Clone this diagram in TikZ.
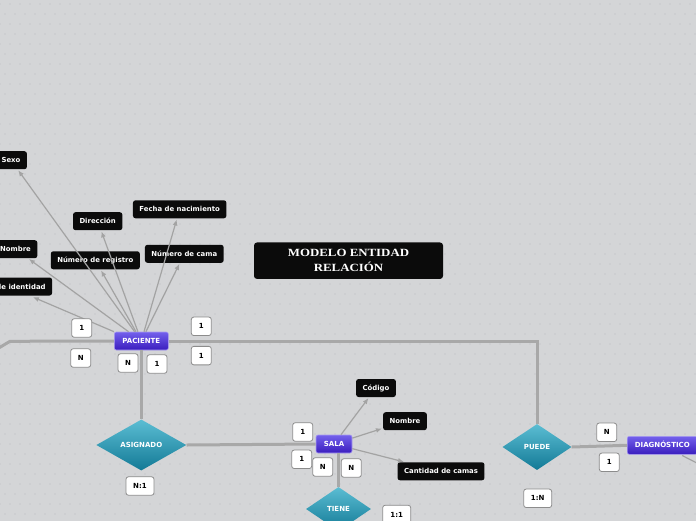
\documentclass[tikz,border=0pt]{standalone}
\usepackage{fontspec}
\setmainfont{DejaVu Sans}
\newfontfamily\titlefont[FakeStretch=1.17]{Liberation Serif}
\usetikzlibrary{shapes.geometric,arrows.meta,calc}
\definecolor{bg}{HTML}{D4D5D7}
\definecolor{dotc}{HTML}{C7C8CB}
\definecolor{relgray}{HTML}{A8A8A8}
\definecolor{arrc}{HTML}{A3A3A3}
\definecolor{enttop}{HTML}{7360EC}
\definecolor{entbot}{HTML}{3A1DBE}
\definecolor{entborder}{HTML}{A99CF2}
\definecolor{diatop}{HTML}{5BBDD3}
\definecolor{diabot}{HTML}{137A96}
\definecolor{attrfill}{HTML}{0B0B0B}
\definecolor{cardborder}{HTML}{8C8C8C}
\tikzset{
  attr/.style={fill=attrfill, rounded corners=2.5pt, text=white,
    font=\bfseries\fontsize{6.9}{8}\selectfont, inner xsep=6.5pt, inner ysep=0pt,
    minimum height=18pt, text height=5.6pt, text depth=0.6pt},
  entity/.style={draw=entborder, line width=0.6pt, top color=enttop, bottom color=entbot,
    rounded corners=2pt, text=white, font=\bfseries\fontsize{7}{8}\selectfont,
    minimum height=18pt, inner ysep=0pt, text height=5.6pt, text depth=0.6pt},
  rel/.style={diamond, top color=diatop, bottom color=diabot, text=white,
    font=\bfseries\fontsize{7}{8}\selectfont, inner sep=0pt},
  card/.style={draw=cardborder, line width=0.8pt, fill=white, rounded corners=2.5pt,
    font=\bfseries\fontsize{7}{8}\selectfont, minimum width=20pt, minimum height=18.5pt,
    inner sep=0pt, text height=5.2pt, text depth=0pt},
  relline/.style={draw=relgray, line width=3pt},
  attrarrow/.style={draw=arrc, line width=1.2pt, -{Latex[length=6pt,width=5pt]}},
  attrline/.style={draw=arrc, line width=1.2pt},
  titlebox/.style={fill=attrfill, rounded corners=3pt, text=white, align=center,
    font=\titlefont\bfseries\fontsize{11}{15}\selectfont, minimum width=189pt, minimum height=36.5pt},
}
\begin{document}
\begin{tikzpicture}[x=1pt,y=-1pt]
\useasboundingbox (0,0) rectangle (696,520);
\clip (0,0) rectangle (696,520);
\fill[bg] (-5,-5) rectangle (701,525);
\foreach \j in {0,...,52}{
  \pgfmathsetmacro\off{mod(\j,2)*5}
  \foreach \i in {0,...,70}{
    \fill[dotc] (\i*10+\off,\j*10+4) circle (0.8pt);
  }
}
% title
\node[titlebox] (title) at (348.5,260.7) {MODELO ENTIDAD\\RELACIÓN};
% entities
\node[entity, minimum width=54pt] (pac) at (141.3,341) {PACIENTE};
\node[entity, minimum width=36pt] (sala) at (334,444) {SALA};
\node[entity, minimum width=70pt] (diag) at (662.3,445.3) {DIAGNÓSTICO};
% relations
\node[rel, minimum width=90pt, minimum height=51pt, aspect=1.76] (asig) at (141.3,445) {ASIGNADO};
\node[rel, minimum width=65pt, minimum height=44pt, aspect=1.48] (tiene) at (338.5,509) {TIENE};
\node[rel, minimum width=69pt, minimum height=46pt, aspect=1.5] (puede) at (537,447) {PUEDE};
% attributes of PACIENTE
\node[attr] (sexo) at (11,160.2) {Sexo};
\node[attr] (dir) at (97.7,221.2) {Dirección};
\node[attr] (fecha) at (179.7,209.3) {Fecha de nacimiento};
\node[attr] (nom) at (15.5,249.2) {Nombre};
\node[attr] (reg) at (95.3,260.3) {Número de registro};
\node[attr] (cama) at (184.3,253.8) {Número de cama};
\node[attr, anchor=east] (ident) at (52.3,286.5) {de identidad};
% attributes of SALA
\node[attr] (cod) at (376,388) {Código};
\node[attr] (snom) at (405,421.2) {Nombre};
\node[attr] (ccam) at (441,471.3) {Cantidad de camas};
% free ends
\coordinate (lft) at (10,341.3);
\coordinate (lft2) at (-8,352);
\coordinate (dfree) at (730,480);
% relation connectors
\draw[relline] (pac.west) -- (lft) -- (lft2);
\draw[relline] (pac.east) -| (puede.north);
\draw[relline] (pac.south) -- (asig.north);
\draw[relline] (asig.east) -- (sala.west);
\draw[relline] (tiene.north |- sala.south) -- (tiene.north);
\draw[relline] (puede.east) -- (diag.west);
% attribute arrows
\draw[attrarrow, shorten >=1pt] (pac) -- (sexo);
\draw[attrarrow, shorten >=1pt] (pac) -- (nom);
\draw[attrarrow, shorten >=1pt] (pac.north west) -- ($(ident.south)+(11,1)$);
\draw[attrarrow, shorten >=1pt] (pac) -- (dir);
\draw[attrarrow, shorten >=1pt] (pac) -- (reg);
\draw[attrarrow, shorten >=1pt] (pac) -- (fecha);
\draw[attrarrow, shorten >=1pt] (pac) -- (cama);
\draw[attrarrow, shorten >=1pt] (sala) -- (cod);
\draw[attrarrow, shorten >=1pt] (sala) -- (snom);
\draw[attrarrow, shorten >=1pt] (sala) -- (ccam);
\draw[attrline, shorten <=2pt] (diag) -- (dfree);
% cardinality cards
\node[card] (c1) at (81.7,328) {1};
\node[card] (c2) at (80.7,358) {N};
\node[card] (c3) at (128,363) {N};
\node[card] (c4) at (157,364) {1};
\node[card] (c5) at (201.3,326.3) {1};
\node[card] (c6) at (201.3,355.6) {1};
\node[card, minimum width=28pt] (c7) at (140,486) {N:1};
\node[card] (c8) at (302.7,432) {1};
\node[card] (c9) at (301.7,459.3) {1};
\node[card] (c10) at (322.7,467) {N};
\node[card] (c11) at (351.3,468) {N};
\node[card, minimum width=28pt] (c12) at (396.7,514.5) {1:1};
\node[card] (c13) at (606.7,432.3) {N};
\node[card] (c14) at (609.3,462.3) {1};
\node[card, minimum width=28pt] (c15) at (537.7,498.3) {1:N};
\end{tikzpicture}
\end{document}
